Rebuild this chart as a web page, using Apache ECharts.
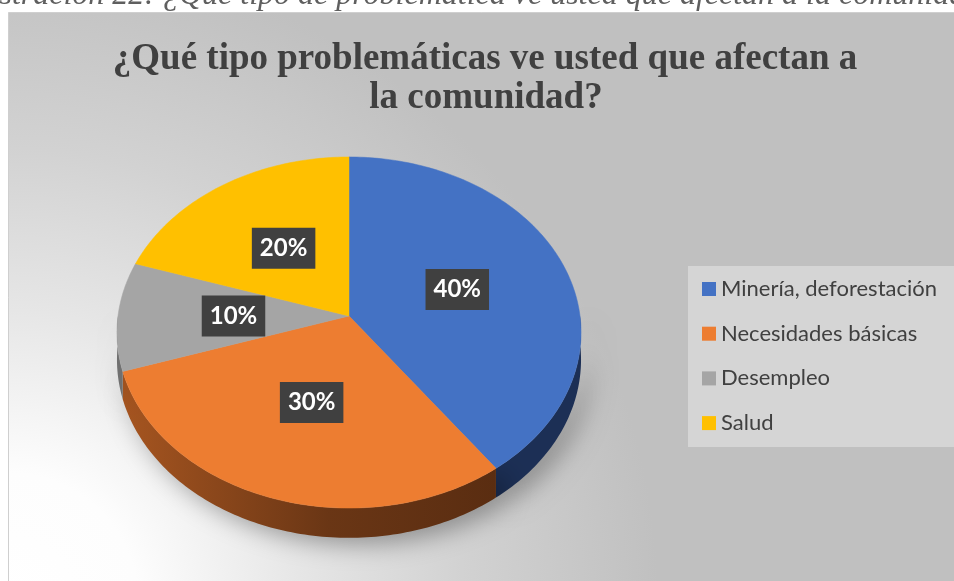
<!DOCTYPE html>
<html><head><meta charset="utf-8">
<script src="https://cdn.jsdelivr.net/npm/echarts@6/dist/echarts.min.js"></script>
<style>html,body{margin:0;padding:0;background:#fff;overflow:hidden}#c{width:954px;height:581px}</style>
</head><body><div id="c"></div>
<script>
// ---- data ----
const categories = ['Minería, deforestación', 'Necesidades básicas', 'Desempleo', 'Salud'];
const values = [40, 30, 10, 20];
const titleLines = ['¿Qué tipo problemáticas ve usted que afectan a', 'la comunidad?'];
const captionText = 'Ilustración 22: ¿Qué tipo de problemática ve usted que afectan a la comunidad?';
const captionPrefix = 'Ilustración 22: ';

// ---- style ----
const topColors = ['#4472c4', '#ed7d31', '#a5a5a5', '#ffc000'];
const sideColors = ['#1c2f55', null, '#707070', '#a07a00'];
const P = { cx: 349, cy: 316, kx: 231, ky: 174, a: 0.094, depth: 27, labelR: 0.5 };

const total = values.reduce((s, v) => s + v, 0);

function proj(theta, r, dz) {
  const u = r * Math.sin(theta), v = -r * Math.cos(theta);
  const s = 1 / (1 - P.a * v);
  return [P.cx + P.kx * u * s, P.cy + P.ky * v * s + P.depth * s * dz];
}

function makeRender(i) {
  return function (params, api) {
    const val = api.value(0);
    const start = values.slice(0, i).reduce((s, v) => s + v, 0);
    const t0 = start / total * 2 * Math.PI, t1 = (start + val) / total * 2 * Math.PI;
    const step = Math.PI / 180;
    const children = [];
    // side wall (front half only)
    const s0 = Math.max(t0, Math.PI / 2), s1 = Math.min(t1, 3 * Math.PI / 2);
    if (s1 > s0) {
      const n = Math.max(2, Math.ceil((s1 - s0) / step));
      const up = [], down = [];
      for (let k = 0; k <= n; k++) {
        const t = s0 + (s1 - s0) * k / n;
        up.push(proj(t, 1, 0));
        down.push(proj(t, 1, 1));
      }
      let fill = sideColors[i];
      if (i === 1) {
        fill = new echarts.graphic.LinearGradient(0, 0, 1, 0, [
          { offset: 0, color: '#a65520' }, { offset: 0.55, color: '#6a3615' }, { offset: 1, color: '#5a2d11' }
        ]);
      }
      children.push({
        type: 'polygon', z2: 1,
        shape: { points: up.concat(down.reverse()) },
        style: { fill: fill, shadowBlur: 26, shadowColor: 'rgba(0,0,0,0.38)', shadowOffsetX: 8, shadowOffsetY: 5 }
      });
    }
    // top face
    const n2 = Math.max(2, Math.ceil((t1 - t0) / step));
    const pts = [proj(0, 0, 0)];
    for (let k = 0; k <= n2; k++) pts.push(proj(t0 + (t1 - t0) * k / n2, 1, 0));
    children.push({
      type: 'polygon', z2: 10,
      shape: { points: pts },
      style: { fill: topColors[i], stroke: topColors[i], lineWidth: 0.5 }
    });
    // label
    const lp = proj((t0 + t1) / 2, P.labelR, 0);
    children.push({
      type: 'text', z2: 20,
      x: lp[0], y: lp[1],
      style: {
        text: Math.round(val / total * 100) + '%',
        fill: '#ffffff', font: 'bold 24px Lato', align: 'center', verticalAlign: 'middle',
        backgroundColor: '#404040', padding: [9, 8, 8, 8], lineHeight: 24,
        boxShadowBlur: 5, boxShadowColor: 'rgba(0,0,0,0.55)', boxShadowOffsetX: 2, boxShadowOffsetY: 2
      }
    });
    return { type: 'group', children: children };
  };
}

// caption placement
const captionFont = 'italic 32px "Liberation Serif"';
const mc = document.createElement('canvas').getContext('2d');
mc.font = captionFont;
const prefixW = mc.measureText(captionPrefix).width;

const series = categories.map((name, i) => ({
  type: 'custom', name: name, coordinateSystem: 'none',
  data: [values[i]],
  itemStyle: { color: topColors[i] },
  renderItem: makeRender(i),
  animation: false
}));

const chart = echarts.init(document.getElementById('c'), null, { renderer: 'canvas' });
chart.setOption({
  animation: false,
  backgroundColor: '#ffffff',
  graphic: [
    {
      type: 'rect', z: -10, shape: { x: 8.5, y: 12.5, width: 960, height: 590 },
      style: {
        fill: new echarts.graphic.RadialGradient(0, 1, 1.1, [
          { offset: 0, color: '#ffffff' }, { offset: 0.2, color: '#fdfdfd' },
          { offset: 0.45, color: '#e6e6e6' }, { offset: 0.7, color: '#d2d2d2' }, { offset: 1, color: '#c0c0c0' }
        ]),
        stroke: '#cfcfcf', lineWidth: 1
      }
    },
    { type: 'rect', z: -9, shape: { x: 688, y: 266, width: 280, height: 181 }, style: { fill: '#d5d5d5' } },
    {
      type: 'text', z: -11, x: 163 - prefixW, y: -4,
      style: { text: captionText, font: captionFont, fill: '#5f5f5f', align: 'left', verticalAlign: 'middle' }
    },
    {
      type: 'text', z: -8, x: 485, y: 59,
      style: { text: titleLines[0], font: 'bold 37px "Liberation Serif"', fill: '#404040', align: 'center', verticalAlign: 'middle' }
    },
    {
      type: 'text', z: -8, x: 486, y: 98,
      style: { text: titleLines[1], font: 'bold 37px "Liberation Serif"', fill: '#404040', align: 'center', verticalAlign: 'middle' }
    }
  ],
  legend: {
    orient: 'vertical', left: 702, top: 278, padding: 0, itemWidth: 14, itemHeight: 14, itemGap: 22.7,
    icon: 'rect', selectedMode: false,
    textStyle: { fontFamily: 'Lato', fontSize: 22, color: '#404040', lineHeight: 22 },
    data: categories
  },
  series: series
});
</script></body></html>
